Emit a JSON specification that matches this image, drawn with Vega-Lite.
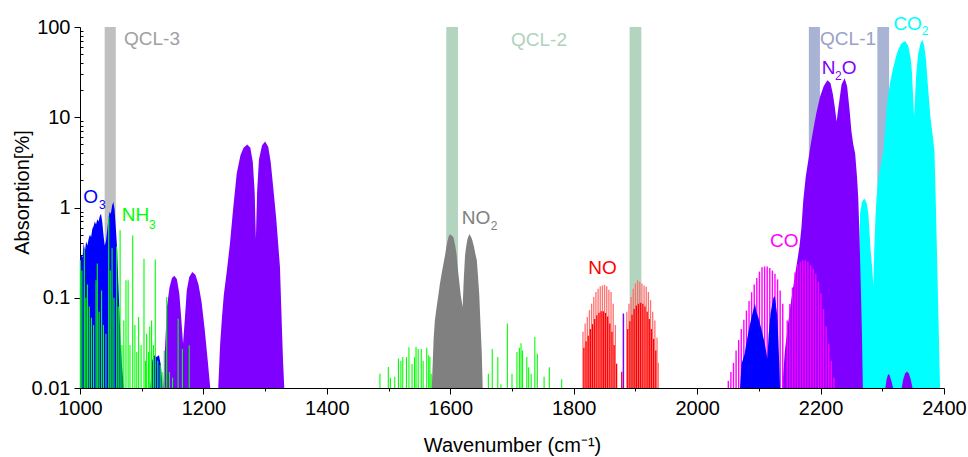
{
  "$schema": "https://vega.github.io/schema/vega-lite/v6.json",
  "width": 864,
  "height": 361,
  "autosize": {"type": "none"},
  "padding": {"left": 80, "top": 27, "right": 24, "bottom": 69},
  "background": "white",
  "config": {"view": {"stroke": null}, "font": "Liberation Sans"},
  "datasets": {
    "qcl": [
      {"series": "QCL-3", "wn": 1040, "wn2": 1058},
      {"series": "QCL-2", "wn": 1593.5, "wn2": 1612.4},
      {"series": "QCL-2", "wn": 1890.6, "wn2": 1909.6},
      {"series": "QCL-1", "wn": 2181, "wn2": 2199},
      {"series": "QCL-1", "wn": 2292, "wn2": 2311}
    ],
    "bands": [
      {"series": "CO2", "band": "c1", "wn": 2262, "abs": 0.01},
      {"series": "CO2", "band": "c1", "wn": 2263, "abs": 0.34},
      {"series": "CO2", "band": "c1", "wn": 2264, "abs": 0.86},
      {"series": "CO2", "band": "c1", "wn": 2267, "abs": 1.15},
      {"series": "CO2", "band": "c1", "wn": 2271, "abs": 1.26},
      {"series": "CO2", "band": "c1", "wn": 2275, "abs": 1.1},
      {"series": "CO2", "band": "c1", "wn": 2277.5, "abs": 0.85},
      {"series": "CO2", "band": "c1", "wn": 2281, "abs": 0.34},
      {"series": "CO2", "band": "c1", "wn": 2284, "abs": 0.2},
      {"series": "CO2", "band": "c1", "wn": 2285.6, "abs": 0.13},
      {"series": "CO2", "band": "c1", "wn": 2287, "abs": 0.34},
      {"series": "CO2", "band": "c1", "wn": 2289, "abs": 0.8},
      {"series": "CO2", "band": "c1", "wn": 2291, "abs": 1.4},
      {"series": "CO2", "band": "c1", "wn": 2293, "abs": 1.9},
      {"series": "CO2", "band": "c1", "wn": 2296, "abs": 2.6},
      {"series": "CO2", "band": "c1", "wn": 2302, "abs": 4.3},
      {"series": "CO2", "band": "c1", "wn": 2305, "abs": 8},
      {"series": "CO2", "band": "c1", "wn": 2308, "abs": 15},
      {"series": "CO2", "band": "c1", "wn": 2313, "abs": 25},
      {"series": "CO2", "band": "c1", "wn": 2318, "abs": 36},
      {"series": "CO2", "band": "c1", "wn": 2324, "abs": 52},
      {"series": "CO2", "band": "c1", "wn": 2330, "abs": 65},
      {"series": "CO2", "band": "c1", "wn": 2337, "abs": 70},
      {"series": "CO2", "band": "c1", "wn": 2342, "abs": 62},
      {"series": "CO2", "band": "c1", "wn": 2346, "abs": 45},
      {"series": "CO2", "band": "c1", "wn": 2348, "abs": 32},
      {"series": "CO2", "band": "c1", "wn": 2351.5, "abs": 10},
      {"series": "CO2", "band": "c1", "wn": 2355, "abs": 30},
      {"series": "CO2", "band": "c1", "wn": 2358, "abs": 50},
      {"series": "CO2", "band": "c1", "wn": 2362, "abs": 66},
      {"series": "CO2", "band": "c1", "wn": 2365, "abs": 72},
      {"series": "CO2", "band": "c1", "wn": 2368, "abs": 62},
      {"series": "CO2", "band": "c1", "wn": 2371, "abs": 42},
      {"series": "CO2", "band": "c1", "wn": 2374, "abs": 22},
      {"series": "CO2", "band": "c1", "wn": 2378, "abs": 10},
      {"series": "CO2", "band": "c1", "wn": 2382, "abs": 6},
      {"series": "CO2", "band": "c1", "wn": 2384.5, "abs": 4.2},
      {"series": "CO2", "band": "c1", "wn": 2386, "abs": 1.8},
      {"series": "CO2", "band": "c1", "wn": 2388.5, "abs": 0.34},
      {"series": "CO2", "band": "c1", "wn": 2391, "abs": 0.06},
      {"series": "CO2", "band": "c1", "wn": 2393.6, "abs": 0.01},

      {"series": "N2O", "band": "n1", "wn": 1135, "abs": 0.01},
      {"series": "N2O", "band": "n1", "wn": 1138, "abs": 0.03},
      {"series": "N2O", "band": "n1", "wn": 1141, "abs": 0.08},
      {"series": "N2O", "band": "n1", "wn": 1145, "abs": 0.13},
      {"series": "N2O", "band": "n1", "wn": 1149, "abs": 0.165},
      {"series": "N2O", "band": "n1", "wn": 1153, "abs": 0.175},
      {"series": "N2O", "band": "n1", "wn": 1157, "abs": 0.16},
      {"series": "N2O", "band": "n1", "wn": 1161, "abs": 0.11},
      {"series": "N2O", "band": "n1", "wn": 1164, "abs": 0.06},
      {"series": "N2O", "band": "n1", "wn": 1167, "abs": 0.031},
      {"series": "N2O", "band": "n1", "wn": 1170, "abs": 0.06},
      {"series": "N2O", "band": "n1", "wn": 1173, "abs": 0.12},
      {"series": "N2O", "band": "n1", "wn": 1177, "abs": 0.17},
      {"series": "N2O", "band": "n1", "wn": 1182, "abs": 0.193},
      {"series": "N2O", "band": "n1", "wn": 1187, "abs": 0.18},
      {"series": "N2O", "band": "n1", "wn": 1192, "abs": 0.14},
      {"series": "N2O", "band": "n1", "wn": 1197, "abs": 0.09},
      {"series": "N2O", "band": "n1", "wn": 1202, "abs": 0.045},
      {"series": "N2O", "band": "n1", "wn": 1207, "abs": 0.02},
      {"series": "N2O", "band": "n1", "wn": 1211, "abs": 0.01},

      {"series": "N2O", "band": "n2", "wn": 1224, "abs": 0.01},
      {"series": "N2O", "band": "n2", "wn": 1227, "abs": 0.03},
      {"series": "N2O", "band": "n2", "wn": 1230, "abs": 0.06},
      {"series": "N2O", "band": "n2", "wn": 1233, "abs": 0.107},
      {"series": "N2O", "band": "n2", "wn": 1238, "abs": 0.2},
      {"series": "N2O", "band": "n2", "wn": 1243, "abs": 0.4},
      {"series": "N2O", "band": "n2", "wn": 1248, "abs": 0.95},
      {"series": "N2O", "band": "n2", "wn": 1254, "abs": 2.4},
      {"series": "N2O", "band": "n2", "wn": 1260, "abs": 3.8},
      {"series": "N2O", "band": "n2", "wn": 1265, "abs": 4.6},
      {"series": "N2O", "band": "n2", "wn": 1271, "abs": 5.0},
      {"series": "N2O", "band": "n2", "wn": 1276, "abs": 4.6},
      {"series": "N2O", "band": "n2", "wn": 1280, "abs": 3.2},
      {"series": "N2O", "band": "n2", "wn": 1283, "abs": 1.5},
      {"series": "N2O", "band": "n2", "wn": 1285, "abs": 0.45},
      {"series": "N2O", "band": "n2", "wn": 1287, "abs": 1.5},
      {"series": "N2O", "band": "n2", "wn": 1290, "abs": 3.4},
      {"series": "N2O", "band": "n2", "wn": 1295, "abs": 4.9},
      {"series": "N2O", "band": "n2", "wn": 1300, "abs": 5.4},
      {"series": "N2O", "band": "n2", "wn": 1305, "abs": 4.7},
      {"series": "N2O", "band": "n2", "wn": 1309, "abs": 3.2},
      {"series": "N2O", "band": "n2", "wn": 1313, "abs": 1.7},
      {"series": "N2O", "band": "n2", "wn": 1318, "abs": 0.75},
      {"series": "N2O", "band": "n2", "wn": 1324, "abs": 0.22},
      {"series": "N2O", "band": "n2", "wn": 1327.5, "abs": 0.04},
      {"series": "N2O", "band": "n2", "wn": 1329, "abs": 0.02},
      {"series": "N2O", "band": "n2", "wn": 1331, "abs": 0.01},

      {"series": "N2O", "band": "n3", "wn": 2138, "abs": 0.01},
      {"series": "N2O", "band": "n3", "wn": 2142, "abs": 0.025},
      {"series": "N2O", "band": "n3", "wn": 2147, "abs": 0.05},
      {"series": "N2O", "band": "n3", "wn": 2152, "abs": 0.09},
      {"series": "N2O", "band": "n3", "wn": 2157, "abs": 0.15},
      {"series": "N2O", "band": "n3", "wn": 2162, "abs": 0.25},
      {"series": "N2O", "band": "n3", "wn": 2166, "abs": 0.38},
      {"series": "N2O", "band": "n3", "wn": 2169, "abs": 0.6},
      {"series": "N2O", "band": "n3", "wn": 2172, "abs": 1.2},
      {"series": "N2O", "band": "n3", "wn": 2176, "abs": 2.2},
      {"series": "N2O", "band": "n3", "wn": 2180, "abs": 3.3},
      {"series": "N2O", "band": "n3", "wn": 2184, "abs": 5},
      {"series": "N2O", "band": "n3", "wn": 2188, "abs": 7.2},
      {"series": "N2O", "band": "n3", "wn": 2193, "abs": 11},
      {"series": "N2O", "band": "n3", "wn": 2199, "abs": 16.8},
      {"series": "N2O", "band": "n3", "wn": 2205, "abs": 22},
      {"series": "N2O", "band": "n3", "wn": 2211, "abs": 25.7},
      {"series": "N2O", "band": "n3", "wn": 2216, "abs": 24},
      {"series": "N2O", "band": "n3", "wn": 2220, "abs": 18},
      {"series": "N2O", "band": "n3", "wn": 2223, "abs": 13},
      {"series": "N2O", "band": "n3", "wn": 2226, "abs": 9},
      {"series": "N2O", "band": "n3", "wn": 2229, "abs": 13},
      {"series": "N2O", "band": "n3", "wn": 2234, "abs": 23},
      {"series": "N2O", "band": "n3", "wn": 2239, "abs": 27},
      {"series": "N2O", "band": "n3", "wn": 2243, "abs": 22},
      {"series": "N2O", "band": "n3", "wn": 2247, "abs": 12},
      {"series": "N2O", "band": "n3", "wn": 2250, "abs": 7},
      {"series": "N2O", "band": "n3", "wn": 2253, "abs": 5},
      {"series": "N2O", "band": "n3", "wn": 2256, "abs": 4.0},
      {"series": "N2O", "band": "n3", "wn": 2259, "abs": 2.2},
      {"series": "N2O", "band": "n3", "wn": 2261, "abs": 1.3},
      {"series": "N2O", "band": "n3", "wn": 2263, "abs": 0.5},
      {"series": "N2O", "band": "n3", "wn": 2265, "abs": 0.15},
      {"series": "N2O", "band": "n3", "wn": 2267, "abs": 0.04},
      {"series": "N2O", "band": "n3", "wn": 2268.5, "abs": 0.01},

      {"series": "N2O", "band": "n4", "wn": 2305, "abs": 0.01},
      {"series": "N2O", "band": "n4", "wn": 2307, "abs": 0.0125},
      {"series": "N2O", "band": "n4", "wn": 2309.5, "abs": 0.0143},
      {"series": "N2O", "band": "n4", "wn": 2312, "abs": 0.0138},
      {"series": "N2O", "band": "n4", "wn": 2315, "abs": 0.0118},
      {"series": "N2O", "band": "n4", "wn": 2317.5, "abs": 0.01},
      {"series": "N2O", "band": "n5", "wn": 2331.5, "abs": 0.01},
      {"series": "N2O", "band": "n5", "wn": 2334, "abs": 0.0125},
      {"series": "N2O", "band": "n5", "wn": 2337, "abs": 0.0145},
      {"series": "N2O", "band": "n5", "wn": 2340, "abs": 0.0152},
      {"series": "N2O", "band": "n5", "wn": 2343, "abs": 0.0145},
      {"series": "N2O", "band": "n5", "wn": 2346, "abs": 0.0125},
      {"series": "N2O", "band": "n5", "wn": 2349, "abs": 0.01},

      {"series": "O3", "band": "o1", "wn": 1000, "abs": 0.01},
      {"series": "O3", "band": "o1", "wn": 1000.3, "abs": 0.26},
      {"series": "O3", "band": "o1", "wn": 1002, "abs": 0.3},
      {"series": "O3", "band": "o1", "wn": 1004, "abs": 0.28},
      {"series": "O3", "band": "o1", "wn": 1006, "abs": 0.4},
      {"series": "O3", "band": "o1", "wn": 1008, "abs": 0.33},
      {"series": "O3", "band": "o1", "wn": 1010, "abs": 0.42},
      {"series": "O3", "band": "o1", "wn": 1012, "abs": 0.38},
      {"series": "O3", "band": "o1", "wn": 1014, "abs": 0.45},
      {"series": "O3", "band": "o1", "wn": 1016, "abs": 0.5},
      {"series": "O3", "band": "o1", "wn": 1018, "abs": 0.47},
      {"series": "O3", "band": "o1", "wn": 1020, "abs": 0.58},
      {"series": "O3", "band": "o1", "wn": 1022, "abs": 0.62},
      {"series": "O3", "band": "o1", "wn": 1024, "abs": 0.7},
      {"series": "O3", "band": "o1", "wn": 1026, "abs": 0.65},
      {"series": "O3", "band": "o1", "wn": 1028, "abs": 0.74},
      {"series": "O3", "band": "o1", "wn": 1030, "abs": 0.7},
      {"series": "O3", "band": "o1", "wn": 1032, "abs": 0.8},
      {"series": "O3", "band": "o1", "wn": 1034, "abs": 0.85},
      {"series": "O3", "band": "o1", "wn": 1036, "abs": 0.7},
      {"series": "O3", "band": "o1", "wn": 1038, "abs": 0.5},
      {"series": "O3", "band": "o1", "wn": 1040, "abs": 0.38},
      {"series": "O3", "band": "o1", "wn": 1042, "abs": 0.42},
      {"series": "O3", "band": "o1", "wn": 1044, "abs": 0.55},
      {"series": "O3", "band": "o1", "wn": 1046, "abs": 0.75},
      {"series": "O3", "band": "o1", "wn": 1048, "abs": 0.9},
      {"series": "O3", "band": "o1", "wn": 1050, "abs": 0.85},
      {"series": "O3", "band": "o1", "wn": 1052, "abs": 1.05},
      {"series": "O3", "band": "o1", "wn": 1054, "abs": 1.15},
      {"series": "O3", "band": "o1", "wn": 1056, "abs": 0.95},
      {"series": "O3", "band": "o1", "wn": 1058, "abs": 0.6},
      {"series": "O3", "band": "o1", "wn": 1060, "abs": 0.36},
      {"series": "O3", "band": "o1", "wn": 1063, "abs": 0.1},
      {"series": "O3", "band": "o1", "wn": 1066, "abs": 0.03},
      {"series": "O3", "band": "o1", "wn": 1068, "abs": 0.018},
      {"series": "O3", "band": "o1", "wn": 1071, "abs": 0.01},
      {"series": "O3", "band": "o2", "wn": 1114, "abs": 0.01},
      {"series": "O3", "band": "o2", "wn": 1117, "abs": 0.02},
      {"series": "O3", "band": "o2", "wn": 1120, "abs": 0.023},
      {"series": "O3", "band": "o2", "wn": 1124, "abs": 0.022},
      {"series": "O3", "band": "o2", "wn": 1128, "abs": 0.023},
      {"series": "O3", "band": "o2", "wn": 1131, "abs": 0.018},
      {"series": "O3", "band": "o2", "wn": 1134, "abs": 0.01},
      {"series": "O3", "band": "o3", "wn": 2069.5, "abs": 0.01},
      {"series": "O3", "band": "o3", "wn": 2072, "abs": 0.0186},
      {"series": "O3", "band": "o3", "wn": 2077, "abs": 0.024},
      {"series": "O3", "band": "o3", "wn": 2081, "abs": 0.035},
      {"series": "O3", "band": "o3", "wn": 2084.6, "abs": 0.047},
      {"series": "O3", "band": "o3", "wn": 2088, "abs": 0.06},
      {"series": "O3", "band": "o3", "wn": 2091, "abs": 0.073},
      {"series": "O3", "band": "o3", "wn": 2093.8, "abs": 0.086},
      {"series": "O3", "band": "o3", "wn": 2096, "abs": 0.07},
      {"series": "O3", "band": "o3", "wn": 2099, "abs": 0.061},
      {"series": "O3", "band": "o3", "wn": 2104.5, "abs": 0.044},
      {"series": "O3", "band": "o3", "wn": 2110, "abs": 0.03},
      {"series": "O3", "band": "o3", "wn": 2113.8, "abs": 0.021},
      {"series": "O3", "band": "o3", "wn": 2116, "abs": 0.04},
      {"series": "O3", "band": "o3", "wn": 2119, "abs": 0.067},
      {"series": "O3", "band": "o3", "wn": 2123.5, "abs": 0.1},
      {"series": "O3", "band": "o3", "wn": 2126, "abs": 0.104},
      {"series": "O3", "band": "o3", "wn": 2130, "abs": 0.061},
      {"series": "O3", "band": "o3", "wn": 2133, "abs": 0.019},
      {"series": "O3", "band": "o3", "wn": 2134.3, "abs": 0.01},

      {"series": "NO2", "band": "g1", "wn": 1570, "abs": 0.01},
      {"series": "NO2", "band": "g1", "wn": 1573, "abs": 0.035},
      {"series": "NO2", "band": "g1", "wn": 1575, "abs": 0.056},
      {"series": "NO2", "band": "g1", "wn": 1578, "abs": 0.08},
      {"series": "NO2", "band": "g1", "wn": 1580.6, "abs": 0.106},
      {"series": "NO2", "band": "g1", "wn": 1583, "abs": 0.14},
      {"series": "NO2", "band": "g1", "wn": 1586, "abs": 0.186},
      {"series": "NO2", "band": "g1", "wn": 1589, "abs": 0.24},
      {"series": "NO2", "band": "g1", "wn": 1591.5, "abs": 0.295},
      {"series": "NO2", "band": "g1", "wn": 1594, "abs": 0.38},
      {"series": "NO2", "band": "g1", "wn": 1597, "abs": 0.47},
      {"series": "NO2", "band": "g1", "wn": 1599.6, "abs": 0.51},
      {"series": "NO2", "band": "g1", "wn": 1602, "abs": 0.49},
      {"series": "NO2", "band": "g1", "wn": 1605, "abs": 0.47},
      {"series": "NO2", "band": "g1", "wn": 1608, "abs": 0.38},
      {"series": "NO2", "band": "g1", "wn": 1610, "abs": 0.31},
      {"series": "NO2", "band": "g1", "wn": 1613, "abs": 0.186},
      {"series": "NO2", "band": "g1", "wn": 1617, "abs": 0.106},
      {"series": "NO2", "band": "g1", "wn": 1620, "abs": 0.079},
      {"series": "NO2", "band": "g1", "wn": 1622, "abs": 0.17},
      {"series": "NO2", "band": "g1", "wn": 1624, "abs": 0.3},
      {"series": "NO2", "band": "g1", "wn": 1626, "abs": 0.38},
      {"series": "NO2", "band": "g1", "wn": 1628, "abs": 0.45},
      {"series": "NO2", "band": "g1", "wn": 1631, "abs": 0.51},
      {"series": "NO2", "band": "g1", "wn": 1633, "abs": 0.48},
      {"series": "NO2", "band": "g1", "wn": 1635, "abs": 0.45},
      {"series": "NO2", "band": "g1", "wn": 1638.5, "abs": 0.365},
      {"series": "NO2", "band": "g1", "wn": 1641, "abs": 0.3},
      {"series": "NO2", "band": "g1", "wn": 1643, "abs": 0.26},
      {"series": "NO2", "band": "g1", "wn": 1645, "abs": 0.17},
      {"series": "NO2", "band": "g1", "wn": 1647, "abs": 0.106},
      {"series": "NO2", "band": "g1", "wn": 1649, "abs": 0.05},
      {"series": "NO2", "band": "g1", "wn": 1651, "abs": 0.025},
      {"series": "NO2", "band": "g1", "wn": 1652.5, "abs": 0.01}
    ],
    "lines": [
      {"series": "N2O", "wn": 1880.5, "abs": 0.067},

      {"series": "CO", "wn": 2050.5, "abs": 0.012},
      {"series": "CO", "wn": 2054.7, "abs": 0.015},
      {"series": "CO", "wn": 2058.9, "abs": 0.019},
      {"series": "CO", "wn": 2063.1, "abs": 0.026},
      {"series": "CO", "wn": 2067.3, "abs": 0.034},
      {"series": "CO", "wn": 2071.5, "abs": 0.045},
      {"series": "CO", "wn": 2075.7, "abs": 0.057},
      {"series": "CO", "wn": 2079.9, "abs": 0.072},
      {"series": "CO", "wn": 2084.1, "abs": 0.092},
      {"series": "CO", "wn": 2088.3, "abs": 0.115},
      {"series": "CO", "wn": 2092.5, "abs": 0.14},
      {"series": "CO", "wn": 2096.7, "abs": 0.165},
      {"series": "CO", "wn": 2100.9, "abs": 0.195},
      {"series": "CO", "wn": 2105.1, "abs": 0.218},
      {"series": "CO", "wn": 2109.3, "abs": 0.222},
      {"series": "CO", "wn": 2113.5, "abs": 0.222},
      {"series": "CO", "wn": 2117.7, "abs": 0.213},
      {"series": "CO", "wn": 2121.9, "abs": 0.2},
      {"series": "CO", "wn": 2126.1, "abs": 0.185},
      {"series": "CO", "wn": 2130.3, "abs": 0.16},
      {"series": "CO", "wn": 2134.5, "abs": 0.12},
      {"series": "CO", "wn": 2138.7, "abs": 0.086},
      {"series": "CO", "wn": 2146, "abs": 0.056},
      {"series": "CO", "wn": 2150.2, "abs": 0.085},
      {"series": "CO", "wn": 2154.4, "abs": 0.13},
      {"series": "CO", "wn": 2158.6, "abs": 0.19},
      {"series": "CO", "wn": 2162.8, "abs": 0.235},
      {"series": "CO", "wn": 2167, "abs": 0.25},
      {"series": "CO", "wn": 2171.2, "abs": 0.26},
      {"series": "CO", "wn": 2175.4, "abs": 0.26},
      {"series": "CO", "wn": 2179.6, "abs": 0.25},
      {"series": "CO", "wn": 2183.8, "abs": 0.23},
      {"series": "CO", "wn": 2188, "abs": 0.21},
      {"series": "CO", "wn": 2192.2, "abs": 0.185},
      {"series": "CO", "wn": 2196.4, "abs": 0.15},
      {"series": "CO", "wn": 2200.6, "abs": 0.112},
      {"series": "CO", "wn": 2204.8, "abs": 0.075},
      {"series": "CO", "wn": 2209, "abs": 0.048},
      {"series": "CO", "wn": 2213.2, "abs": 0.031},
      {"series": "CO", "wn": 2217.4, "abs": 0.02},
      {"series": "CO", "wn": 2221.6, "abs": 0.013},

      {"series": "NH3", "wn": 1000.5, "abs": 0.26},
      {"series": "NH3", "wn": 1003, "abs": 0.2},
      {"series": "NH3", "wn": 1007, "abs": 0.34},
      {"series": "NH3", "wn": 1009.5, "abs": 0.1},
      {"series": "NH3", "wn": 1012, "abs": 0.14},
      {"series": "NH3", "wn": 1015, "abs": 0.08},
      {"series": "NH3", "wn": 1018.5, "abs": 0.06},
      {"series": "NH3", "wn": 1022, "abs": 0.05},
      {"series": "NH3", "wn": 1026, "abs": 0.156},
      {"series": "NH3", "wn": 1028, "abs": 0.24},
      {"series": "NH3", "wn": 1031, "abs": 0.07},
      {"series": "NH3", "wn": 1035, "abs": 0.12},
      {"series": "NH3", "wn": 1038, "abs": 0.05},
      {"series": "NH3", "wn": 1042, "abs": 0.04},
      {"series": "NH3", "wn": 1046.5, "abs": 0.785},
      {"series": "NH3", "wn": 1049, "abs": 0.2},
      {"series": "NH3", "wn": 1052, "abs": 0.354},
      {"series": "NH3", "wn": 1055, "abs": 0.1},
      {"series": "NH3", "wn": 1059.4, "abs": 0.37},
      {"series": "NH3", "wn": 1062, "abs": 0.08},
      {"series": "NH3", "wn": 1065, "abs": 0.56},
      {"series": "NH3", "wn": 1068, "abs": 0.03},
      {"series": "NH3", "wn": 1071, "abs": 0.056},
      {"series": "NH3", "wn": 1074.5, "abs": 0.156},
      {"series": "NH3", "wn": 1078, "abs": 0.156},
      {"series": "NH3", "wn": 1081, "abs": 0.03},
      {"series": "NH3", "wn": 1085.4, "abs": 0.49},
      {"series": "NH3", "wn": 1089, "abs": 0.05},
      {"series": "NH3", "wn": 1092, "abs": 0.025},
      {"series": "NH3", "wn": 1095, "abs": 0.061},
      {"series": "NH3", "wn": 1099, "abs": 0.03},
      {"series": "NH3", "wn": 1103.7, "abs": 0.27},
      {"series": "NH3", "wn": 1106, "abs": 0.02},
      {"series": "NH3", "wn": 1108, "abs": 0.04},
      {"series": "NH3", "wn": 1111, "abs": 0.025},
      {"series": "NH3", "wn": 1113, "abs": 0.048},
      {"series": "NH3", "wn": 1116, "abs": 0.056},
      {"series": "NH3", "wn": 1119, "abs": 0.03},
      {"series": "NH3", "wn": 1122, "abs": 0.265},
      {"series": "NH3", "wn": 1126, "abs": 0.02},
      {"series": "NH3", "wn": 1130, "abs": 0.018},
      {"series": "NH3", "wn": 1133, "abs": 0.015},
      {"series": "NH3", "wn": 1136.6, "abs": 0.026},
      {"series": "NH3", "wn": 1140.5, "abs": 0.102},
      {"series": "NH3", "wn": 1145, "abs": 0.015},
      {"series": "NH3", "wn": 1150, "abs": 0.013},
      {"series": "NH3", "wn": 1159, "abs": 0.0587},
      {"series": "NH3", "wn": 1166, "abs": 0.027},
      {"series": "NH3", "wn": 1177, "abs": 0.0297},
      {"series": "NH3", "wn": 1486, "abs": 0.0144},
      {"series": "NH3", "wn": 1499.6, "abs": 0.0171},
      {"series": "NH3", "wn": 1503, "abs": 0.013},
      {"series": "NH3", "wn": 1510, "abs": 0.0133},
      {"series": "NH3", "wn": 1516, "abs": 0.0212},
      {"series": "NH3", "wn": 1520, "abs": 0.02},
      {"series": "NH3", "wn": 1523, "abs": 0.022},
      {"series": "NH3", "wn": 1529, "abs": 0.022},
      {"series": "NH3", "wn": 1533, "abs": 0.0283},
      {"series": "NH3", "wn": 1538, "abs": 0.0185},
      {"series": "NH3", "wn": 1542, "abs": 0.022},
      {"series": "NH3", "wn": 1544.5, "abs": 0.0285},
      {"series": "NH3", "wn": 1548, "abs": 0.027},
      {"series": "NH3", "wn": 1553, "abs": 0.027},
      {"series": "NH3", "wn": 1556, "abs": 0.02},
      {"series": "NH3", "wn": 1561.8, "abs": 0.028},
      {"series": "NH3", "wn": 1565, "abs": 0.023},
      {"series": "NH3", "wn": 1567, "abs": 0.022},
      {"series": "NH3", "wn": 1569, "abs": 0.0144},
      {"series": "NH3", "wn": 1661.7, "abs": 0.0144},
      {"series": "NH3", "wn": 1668, "abs": 0.027},
      {"series": "NH3", "wn": 1677, "abs": 0.022},
      {"series": "NH3", "wn": 1682, "abs": 0.011},
      {"series": "NH3", "wn": 1692.5, "abs": 0.0517},
      {"series": "NH3", "wn": 1700, "abs": 0.0144},
      {"series": "NH3", "wn": 1708, "abs": 0.025},
      {"series": "NH3", "wn": 1712, "abs": 0.028},
      {"series": "NH3", "wn": 1714.6, "abs": 0.0314},
      {"series": "NH3", "wn": 1717, "abs": 0.026},
      {"series": "NH3", "wn": 1724, "abs": 0.022},
      {"series": "NH3", "wn": 1727, "abs": 0.017},
      {"series": "NH3", "wn": 1731, "abs": 0.0144},
      {"series": "NH3", "wn": 1737, "abs": 0.0367},
      {"series": "NH3", "wn": 1741, "abs": 0.024},
      {"series": "NH3", "wn": 1752, "abs": 0.0133},
      {"series": "NH3", "wn": 1760.5, "abs": 0.017},
      {"series": "NH3", "wn": 1780.5, "abs": 0.0125},

      {"series": "NO-a", "wn": 1815, "abs": 0.042},
      {"series": "NO-a", "wn": 1818.5, "abs": 0.052},
      {"series": "NO-a", "wn": 1822, "abs": 0.061},
      {"series": "NO-a", "wn": 1825.5, "abs": 0.073},
      {"series": "NO-a", "wn": 1829, "abs": 0.086},
      {"series": "NO-a", "wn": 1832.5, "abs": 0.102},
      {"series": "NO-a", "wn": 1836, "abs": 0.116},
      {"series": "NO-a", "wn": 1839.5, "abs": 0.126},
      {"series": "NO-a", "wn": 1843, "abs": 0.134},
      {"series": "NO-a", "wn": 1846.5, "abs": 0.137},
      {"series": "NO-a", "wn": 1850, "abs": 0.139},
      {"series": "NO-a", "wn": 1853.5, "abs": 0.134},
      {"series": "NO-a", "wn": 1857, "abs": 0.123},
      {"series": "NO-a", "wn": 1860.5, "abs": 0.116},
      {"series": "NO-a", "wn": 1864, "abs": 0.086},
      {"series": "NO-a", "wn": 1867.5, "abs": 0.05},
      {"series": "NO-a", "wn": 1886, "abs": 0.07},
      {"series": "NO-a", "wn": 1889.5, "abs": 0.086},
      {"series": "NO-a", "wn": 1893, "abs": 0.102},
      {"series": "NO-a", "wn": 1896.5, "abs": 0.126},
      {"series": "NO-a", "wn": 1900, "abs": 0.144},
      {"series": "NO-a", "wn": 1903.5, "abs": 0.156},
      {"series": "NO-a", "wn": 1907, "abs": 0.15},
      {"series": "NO-a", "wn": 1910.5, "abs": 0.144},
      {"series": "NO-a", "wn": 1914, "abs": 0.137},
      {"series": "NO-a", "wn": 1917.5, "abs": 0.132},
      {"series": "NO-a", "wn": 1921, "abs": 0.116},
      {"series": "NO-a", "wn": 1924.5, "abs": 0.094},
      {"series": "NO-a", "wn": 1928, "abs": 0.07},
      {"series": "NO-a", "wn": 1931.5, "abs": 0.056},
      {"series": "NO-a", "wn": 1935, "abs": 0.036},
      {"series": "NO-a", "wn": 1937, "abs": 0.019},

      {"series": "NO-b", "wn": 1816.5, "abs": 0.028},
      {"series": "NO-b", "wn": 1820, "abs": 0.033},
      {"series": "NO-b", "wn": 1823.5, "abs": 0.038},
      {"series": "NO-b", "wn": 1827, "abs": 0.045},
      {"series": "NO-b", "wn": 1830.5, "abs": 0.051},
      {"series": "NO-b", "wn": 1834, "abs": 0.058},
      {"series": "NO-b", "wn": 1837.5, "abs": 0.064},
      {"series": "NO-b", "wn": 1841, "abs": 0.068},
      {"series": "NO-b", "wn": 1844.5, "abs": 0.071},
      {"series": "NO-b", "wn": 1848, "abs": 0.071},
      {"series": "NO-b", "wn": 1851.5, "abs": 0.068},
      {"series": "NO-b", "wn": 1855, "abs": 0.062},
      {"series": "NO-b", "wn": 1858.5, "abs": 0.052},
      {"series": "NO-b", "wn": 1862, "abs": 0.042},
      {"series": "NO-b", "wn": 1865.5, "abs": 0.03},
      {"series": "NO-b", "wn": 1869.5, "abs": 0.0186},
      {"series": "NO-b", "wn": 1877.8, "abs": 0.0151},
      {"series": "NO-b", "wn": 1887.5, "abs": 0.045},
      {"series": "NO-b", "wn": 1891, "abs": 0.055},
      {"series": "NO-b", "wn": 1894.5, "abs": 0.065},
      {"series": "NO-b", "wn": 1898, "abs": 0.075},
      {"series": "NO-b", "wn": 1901.5, "abs": 0.082},
      {"series": "NO-b", "wn": 1905, "abs": 0.086},
      {"series": "NO-b", "wn": 1908.5, "abs": 0.088},
      {"series": "NO-b", "wn": 1912, "abs": 0.086},
      {"series": "NO-b", "wn": 1915.5, "abs": 0.08},
      {"series": "NO-b", "wn": 1919, "abs": 0.07},
      {"series": "NO-b", "wn": 1922.5, "abs": 0.058},
      {"series": "NO-b", "wn": 1926, "abs": 0.045},
      {"series": "NO-b", "wn": 1929.5, "abs": 0.035},
      {"series": "NO-b", "wn": 1933, "abs": 0.026}
    ],
    "labels": [
      {"series": "QCL-3 text", "text": "QCL-3", "wn": 1071.3, "abs": 62.7},
      {"series": "QCL-2 text", "text": "QCL-2", "wn": 1698.4, "abs": 61.1},
      {"series": "QCL-1 text", "text": "QCL-1", "wn": 2199.2, "abs": 63.8},
      {"series": "CO2", "text": "CO", "wn": 2318, "abs": 93.5},
      {"series": "N2O", "text": "N", "wn": 2201.9, "abs": 29.9},
      {"series": "N2O", "text": "O", "wn": 2234.3, "abs": 29.9},
      {"series": "O3", "text": "O", "wn": 1005.3, "abs": 1.13},
      {"series": "NH3", "text": "NH", "wn": 1067.6, "abs": 0.703},
      {"series": "NO2", "text": "NO", "wn": 1618.5, "abs": 0.664},
      {"series": "NO", "text": "NO", "wn": 1823.7, "abs": 0.182},
      {"series": "CO", "text": "CO", "wn": 2118.1, "abs": 0.365}
    ],
    "subs": [
      {"series": "CO2", "text": "2", "wn": 2364, "abs": 80.9},
      {"series": "N2O", "text": "2", "wn": 2223.5, "abs": 25.6},
      {"series": "O3", "text": "3", "wn": 1030.8, "abs": 0.973},
      {"series": "NH3", "text": "3", "wn": 1111.8, "abs": 0.583},
      {"series": "NO2", "text": "2", "wn": 1665.5, "abs": 0.569}
    ]
  },
  "encoding": {
    "x": {
      "field": "wn",
      "type": "quantitative",
      "title": "Wavenumber (cm⁻¹)",
      "scale": {"domain": [1000, 2400], "nice": false, "zero": false},
      "axis": {
        "values": [1000, 1100, 1200, 1300, 1400, 1500, 1600, 1700, 1800, 1900, 2000, 2100, 2200, 2300, 2400],
        "format": "d",
        "labelExpr": "datum.value % 200 == 0 ? datum.label : ''",
        "tickSize": {"condition": {"test": "datum.value % 200 == 0", "value": 6}, "value": 3},
        "grid": false,
        "domainColor": "black",
        "tickColor": "black",
        "labelColor": "black",
        "labelFont": "Liberation Sans",
        "labelFontSize": 20,
        "labelPadding": 4,
        "labelFlush": false,
        "labelOverlap": false,
        "titleFont": "Liberation Sans",
        "titleFontSize": 20,
        "titleFontWeight": "normal",
        "titleColor": "black",
        "titleY": 63,
        "titleBaseline": "alphabetic"
      }
    },
    "color": {
      "field": "series",
      "type": "nominal",
      "legend": null,
      "scale": {
        "domain": ["QCL-1", "QCL-2", "QCL-3", "QCL-1 text", "QCL-2 text", "QCL-3 text", "CO2", "N2O", "CO", "O3", "NH3", "NO2", "NO-a", "NO-b", "NO"],
        "range": ["#a9b3d4", "#b3d4be", "#c0c0c0", "#9aa1c9", "#b0d2bc", "#a0a0a0", "#00ffff", "#8000ff", "#ff00ff", "#0000ff", "#00ff00", "#808080", "#ff7070", "#ff0000", "#ff0000"]
      }
    }
  },
  "layer": [
    {
      "data": {"name": "qcl"},
      "mark": {"type": "rect"},
      "encoding": {
        "x2": {"field": "wn2"},
        "y": {"datum": 100, "type": "quantitative", "scale": {"type": "log", "domain": [0.01, 100], "nice": false}, "title": "Absorption[%]"},
        "y2": {"datum": 0.01}
      }
    },
    {
      "data": {"name": "bands"},
      "transform": [{"filter": "datum.series == 'CO2'"}],
      "mark": {"type": "area", "interpolate": "linear"},
      "encoding": {
        "y": {
          "field": "abs",
          "type": "quantitative",
          "title": "Absorption[%]",
          "scale": {"type": "log", "domain": [0.01, 100], "nice": false},
          "axis": {
            "values": [0.01, 0.02, 0.03, 0.04, 0.05, 0.06, 0.07, 0.08, 0.09, 0.1, 0.2, 0.3, 0.4, 0.5, 0.6, 0.7, 0.8, 0.9, 1, 2, 3, 4, 5, 6, 7, 8, 9, 10, 20, 30, 40, 50, 60, 70, 80, 90, 100],
            "labelExpr": "abs(log(datum.value)/LN10 - round(log(datum.value)/LN10)) < 0.000001 ? format(datum.value, '~g') : ''",
            "tickSize": {"condition": {"test": "abs(log(datum.value)/LN10 - round(log(datum.value)/LN10)) < 0.000001", "value": 6}, "value": -3},
            "grid": false,
            "domainColor": "black",
            "tickColor": "black",
            "labelColor": "black",
            "labelFont": "Liberation Sans",
            "labelFontSize": 20,
            "labelPadding": 4,
            "labelOverlap": false,
            "labelBound": false,
            "titleFont": "Liberation Sans",
            "titleFontSize": 20,
            "titleFontWeight": "normal",
            "titleColor": "black",
            "titleAngle": 270,
            "titleAlign": "center",
            "titleBaseline": "bottom",
            "titleX": -48,
            "titleY": 165
          }
        },
        "y2": {"datum": 0.01},
        "detail": {"field": "band"}
      }
    },
    {
      "data": {"name": "bands"},
      "transform": [{"filter": "datum.series == 'N2O'"}],
      "mark": {"type": "area", "interpolate": "linear"},
      "encoding": {
        "y": {"field": "abs", "type": "quantitative", "title": "Absorption[%]", "scale": {"type": "log", "domain": [0.01, 100], "nice": false}},
        "y2": {"datum": 0.01},
        "detail": {"field": "band"}
      }
    },
    {
      "data": {"name": "lines"},
      "transform": [{"filter": "datum.series == 'N2O'"}],
      "mark": {"type": "rule", "strokeWidth": 1.5},
      "encoding": {
        "y": {"field": "abs", "type": "quantitative", "title": "Absorption[%]", "scale": {"type": "log", "domain": [0.01, 100], "nice": false}},
        "y2": {"datum": 0.01}
      }
    },
    {
      "data": {"name": "lines"},
      "transform": [{"filter": "datum.series == 'CO'"}],
      "mark": {"type": "rule", "strokeWidth": 1.4},
      "encoding": {
        "y": {"field": "abs", "type": "quantitative", "title": "Absorption[%]", "scale": {"type": "log", "domain": [0.01, 100], "nice": false}},
        "y2": {"datum": 0.01}
      }
    },
    {
      "data": {"name": "bands"},
      "transform": [{"filter": "datum.series == 'O3'"}],
      "mark": {"type": "area", "interpolate": "linear"},
      "encoding": {
        "y": {"field": "abs", "type": "quantitative", "title": "Absorption[%]", "scale": {"type": "log", "domain": [0.01, 100], "nice": false}},
        "y2": {"datum": 0.01},
        "detail": {"field": "band"}
      }
    },
    {
      "data": {"name": "lines"},
      "transform": [{"filter": "datum.series == 'NH3'"}],
      "mark": {"type": "rule", "strokeWidth": 1.1},
      "encoding": {
        "y": {"field": "abs", "type": "quantitative", "title": "Absorption[%]", "scale": {"type": "log", "domain": [0.01, 100], "nice": false}},
        "y2": {"datum": 0.01}
      }
    },
    {
      "data": {"name": "bands"},
      "transform": [{"filter": "datum.series == 'NO2'"}],
      "mark": {"type": "area", "interpolate": "linear"},
      "encoding": {
        "y": {"field": "abs", "type": "quantitative", "title": "Absorption[%]", "scale": {"type": "log", "domain": [0.01, 100], "nice": false}},
        "y2": {"datum": 0.01},
        "detail": {"field": "band"}
      }
    },
    {
      "data": {"name": "lines"},
      "transform": [{"filter": "datum.series == 'NO-a'"}],
      "mark": {"type": "rule", "strokeWidth": 1.3},
      "encoding": {
        "y": {"field": "abs", "type": "quantitative", "title": "Absorption[%]", "scale": {"type": "log", "domain": [0.01, 100], "nice": false}},
        "y2": {"datum": 0.01}
      }
    },
    {
      "data": {"name": "lines"},
      "transform": [{"filter": "datum.series == 'NO-b'"}],
      "mark": {"type": "rule", "strokeWidth": 1.3},
      "encoding": {
        "y": {"field": "abs", "type": "quantitative", "title": "Absorption[%]", "scale": {"type": "log", "domain": [0.01, 100], "nice": false}},
        "y2": {"datum": 0.01}
      }
    },
    {
      "data": {"name": "labels"},
      "mark": {"type": "text", "align": "left", "baseline": "alphabetic", "font": "Liberation Sans", "fontSize": 19},
      "encoding": {
        "y": {"field": "abs", "type": "quantitative", "title": "Absorption[%]", "scale": {"type": "log", "domain": [0.01, 100], "nice": false}},
        "text": {"field": "text"}
      }
    },
    {
      "data": {"name": "subs"},
      "mark": {"type": "text", "align": "left", "baseline": "alphabetic", "font": "Liberation Sans", "fontSize": 12},
      "encoding": {
        "y": {"field": "abs", "type": "quantitative", "title": "Absorption[%]", "scale": {"type": "log", "domain": [0.01, 100], "nice": false}},
        "text": {"field": "text"}
      }
    }
  ]
}
